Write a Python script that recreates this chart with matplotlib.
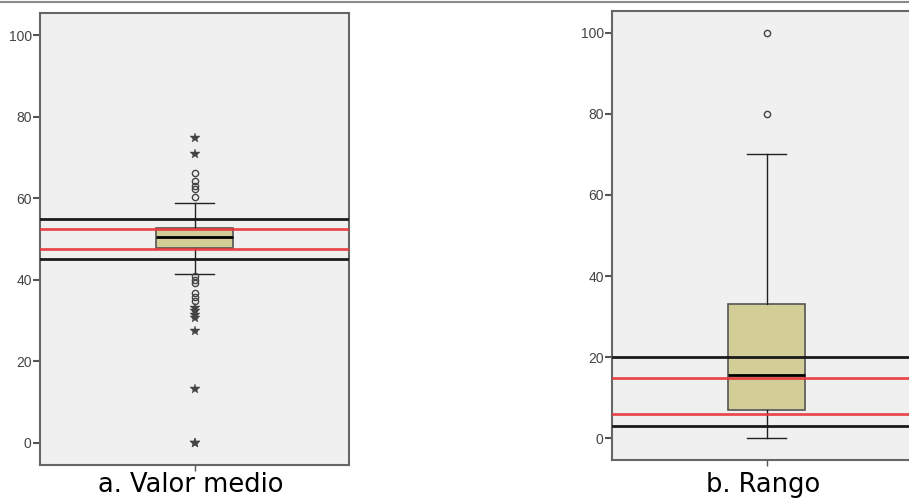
import matplotlib.pyplot as plt
from matplotlib.lines import Line2D

# a. Valor medio
media_stats = dict(q1=47.8, med=50.4, q3=52.8, whislo=41.3, whishi=58.9)
media_circles = [60.4, 62.4, 63.0, 64.2, 66.2, 40.8, 40.0, 39.1, 36.7, 35.7, 34.8]
media_stars = [70.8, 74.9, 33.0, 32.2, 31.4, 30.6, 27.5, 13.2, 0.0, 0.0]
media_black_lines = [55.0, 45.0]
media_red_lines = [52.4, 47.5]

# b. Rango
rango_stats = dict(q1=7.0, med=15.5, q3=33.0, whislo=0.0, whishi=70.0)
rango_circles = [100.0, 80.0]
rango_stars = []
rango_black_lines = [20.0, 3.0]
rango_red_lines = [14.8, 6.0]

yticks = [0, 20, 40, 60, 80, 100]
labels = ["a. Valor medio", "b. Rango"]

BOX_FACE = "#d3ce98"
BG = "#f0f0f0"

fig = plt.figure(figsize=(9.09, 4.98), dpi=100)

# thin grey rule along the top of the image
fig.add_artist(Line2D([0, 1], [0.995, 0.995], color="#8a8a8a", lw=1.5))


def draw_panel(rect, stats, circles, stars, black_lines, red_lines, label):
    ax = fig.add_axes(rect)
    ax.set_facecolor(BG)
    st = dict(stats, fliers=circles, label="")
    ax.bxp([st], positions=[1], widths=0.25, patch_artist=True,
           boxprops=dict(facecolor=BOX_FACE, edgecolor="#555555", linewidth=1.2),
           medianprops=dict(color="black", linewidth=2),
           whiskerprops=dict(color="#222222", linewidth=1),
           capprops=dict(color="#222222", linewidth=1),
           flierprops=dict(marker="o", markersize=4.5, markerfacecolor="none",
                           markeredgecolor="#444444", markeredgewidth=1),
           zorder=2)
    if stars:
        ax.plot([1] * len(stars), stars, linestyle="none", marker="*",
                markersize=7, color="#444444", markeredgewidth=0.3, zorder=3)
    for v in black_lines:
        ax.axhline(v, color="#1a1a1a", lw=2, zorder=4)
    for v in red_lines:
        ax.axhline(v, color="#e8373c", lw=2, alpha=0.9, zorder=4)

    ax.set_xlim(0.5, 1.5)
    ax.set_ylim(-5.5, 105.5)
    ax.set_yticks(yticks)
    ax.set_yticklabels([str(t) for t in yticks], family="Liberation Sans",
                       fontsize=10, color="#444444")
    ax.set_xticks([1])
    ax.set_xticklabels([""])
    ax.tick_params(axis="y", direction="out", length=5, width=1.5, color="#555555", pad=1)
    ax.tick_params(axis="x", direction="out", length=4, width=1, color="#555555")
    for sp in ax.spines.values():
        sp.set_color("#666666")
        sp.set_linewidth(1.5)

    # label centred under the box
    x_fig = rect[0] + rect[2] * 0.5
    fig.text(x_fig - 0.004, 6 / 498, label, ha="center", va="baseline",
             fontsize=18.5, family="DejaVu Sans", color="black")
    return ax


draw_panel([40 / 909, 33 / 498, 309 / 909, 452 / 498],
           media_stats, media_circles, media_stars,
           media_black_lines, media_red_lines, labels[0])
draw_panel([612 / 909, 37.7 / 498, 309 / 909, 449.6 / 498],
           rango_stats, rango_circles, rango_stars,
           rango_black_lines, rango_red_lines, labels[1])

fig.savefig("out.png", dpi=100)
